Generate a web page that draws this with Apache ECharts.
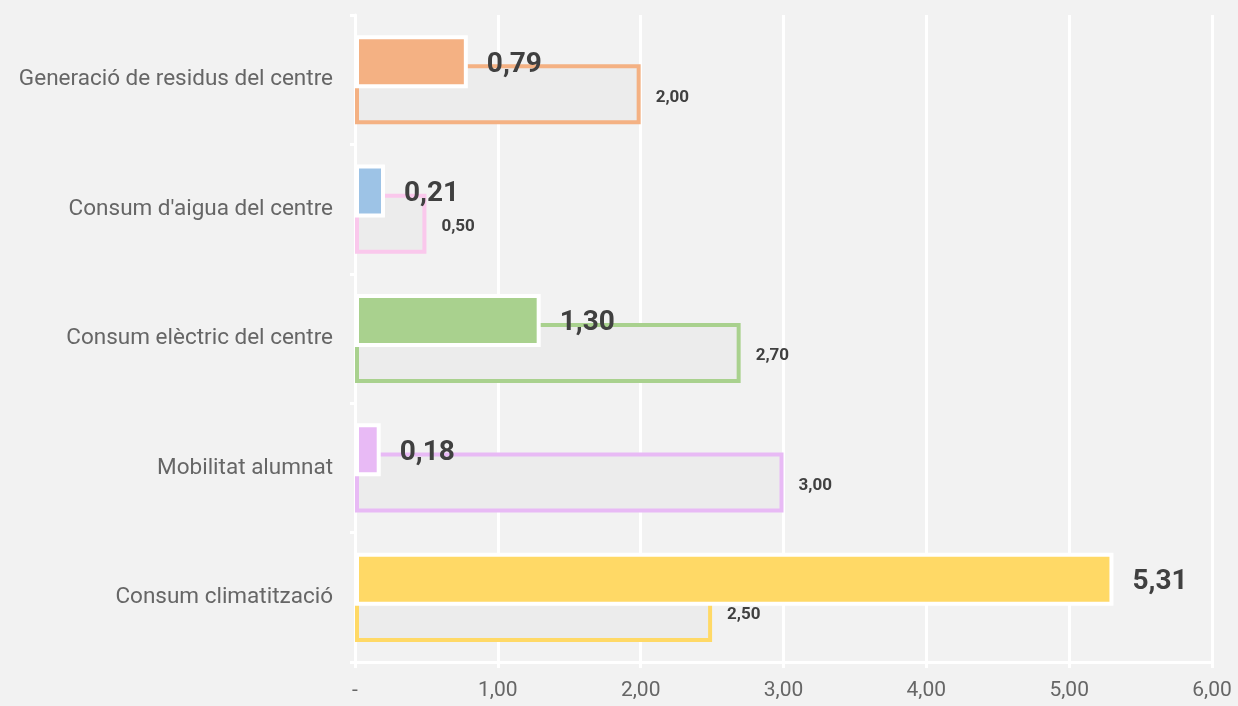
<!DOCTYPE html>
<html><head><meta charset="utf-8">
<script src="https://cdn.jsdelivr.net/npm/echarts@6/dist/echarts.min.js"></script>
<style>html,body{margin:0;padding:0;background:#f2f2f2;}#c{width:1238px;height:706px;}</style>
</head><body><div id="c"></div>
<script>
const categories = ["Generació de residus del centre", "Consum d'aigua del centre", "Consum elèctric del centre", "Mobilitat alumnat", "Consum climatització"];
const actual = [0.79, 0.21, 1.30, 0.18, 5.31];
const target = [2.00, 0.50, 2.70, 3.00, 2.50];
const actualColors = ["#F4B183", "#9DC3E6", "#A9D18E", "#E8BAF5", "#FFD966"];
const targetColors = ["#F4B183", "#FAC8EC", "#A9D18E", "#E8BAF5", "#FFD966"];
const xTicks = ["-", "1,00", "2,00", "3,00", "4,00", "5,00", "6,00"];

const fmt = v => v.toFixed(2).replace('.', ',');
const font = 'Roboto, "DejaVu Sans", sans-serif';
const chart = echarts.init(document.getElementById('c'));
chart.setOption({
  backgroundColor: '#f2f2f2',
  animation: false,
  grid: {left: 355, right: 26, top: 15, bottom: 44, containLabel: false},
  xAxis: {
    type: 'value', min: 0, max: 6, interval: 1,
    axisLine: {show: true, lineStyle: {color: '#ffffff', width: 3}},
    axisTick: {show: true, length: 6, lineStyle: {color: '#ffffff', width: 3}},
    splitLine: {show: true, lineStyle: {color: '#ffffff', width: 3}},
    axisLabel: {color: '#666666', fontSize: 21, fontFamily: font, margin: 18,
      formatter: (v) => xTicks[Math.round(v)]}
  },
  yAxis: {
    type: 'category', data: categories, inverse: true,
    axisLine: {show: true, lineStyle: {color: '#ffffff', width: 3}},
    axisTick: {show: true, length: 5, lineStyle: {color: '#ffffff', width: 3}},
    axisLabel: {color: '#666666', fontSize: 22.5, fontFamily: font, margin: 22, offset: 0}
  },
  series: [
    {
      name: 'actual', type: 'bar', z: 3,
      barWidth: 53, barGap: '-45%',
      data: actual.map((v, i) => ({value: v, itemStyle: {color: actualColors[i]}})),
      itemStyle: {borderColor: '#ffffff', borderWidth: 4},
      label: {show: true, position: 'right', distance: 19, offset: [0, 3], color: '#404040', fontSize: 28, fontWeight: 'bold', fontFamily: font,
        formatter: p => fmt(p.value)}
    },
    {
      name: 'target', type: 'bar', z: 2,
      barWidth: 60,
      data: target.map((v, i) => ({value: v, itemStyle: {borderColor: targetColors[i]}})),
      itemStyle: {color: '#ececec', borderWidth: 4},
      label: {show: true, position: 'right', distance: 15, offset: [0, 3], color: '#404040', fontSize: 17, fontWeight: 'bold', fontFamily: font,
        formatter: p => fmt(p.value)}
    }
  ]
});
</script></body></html>
